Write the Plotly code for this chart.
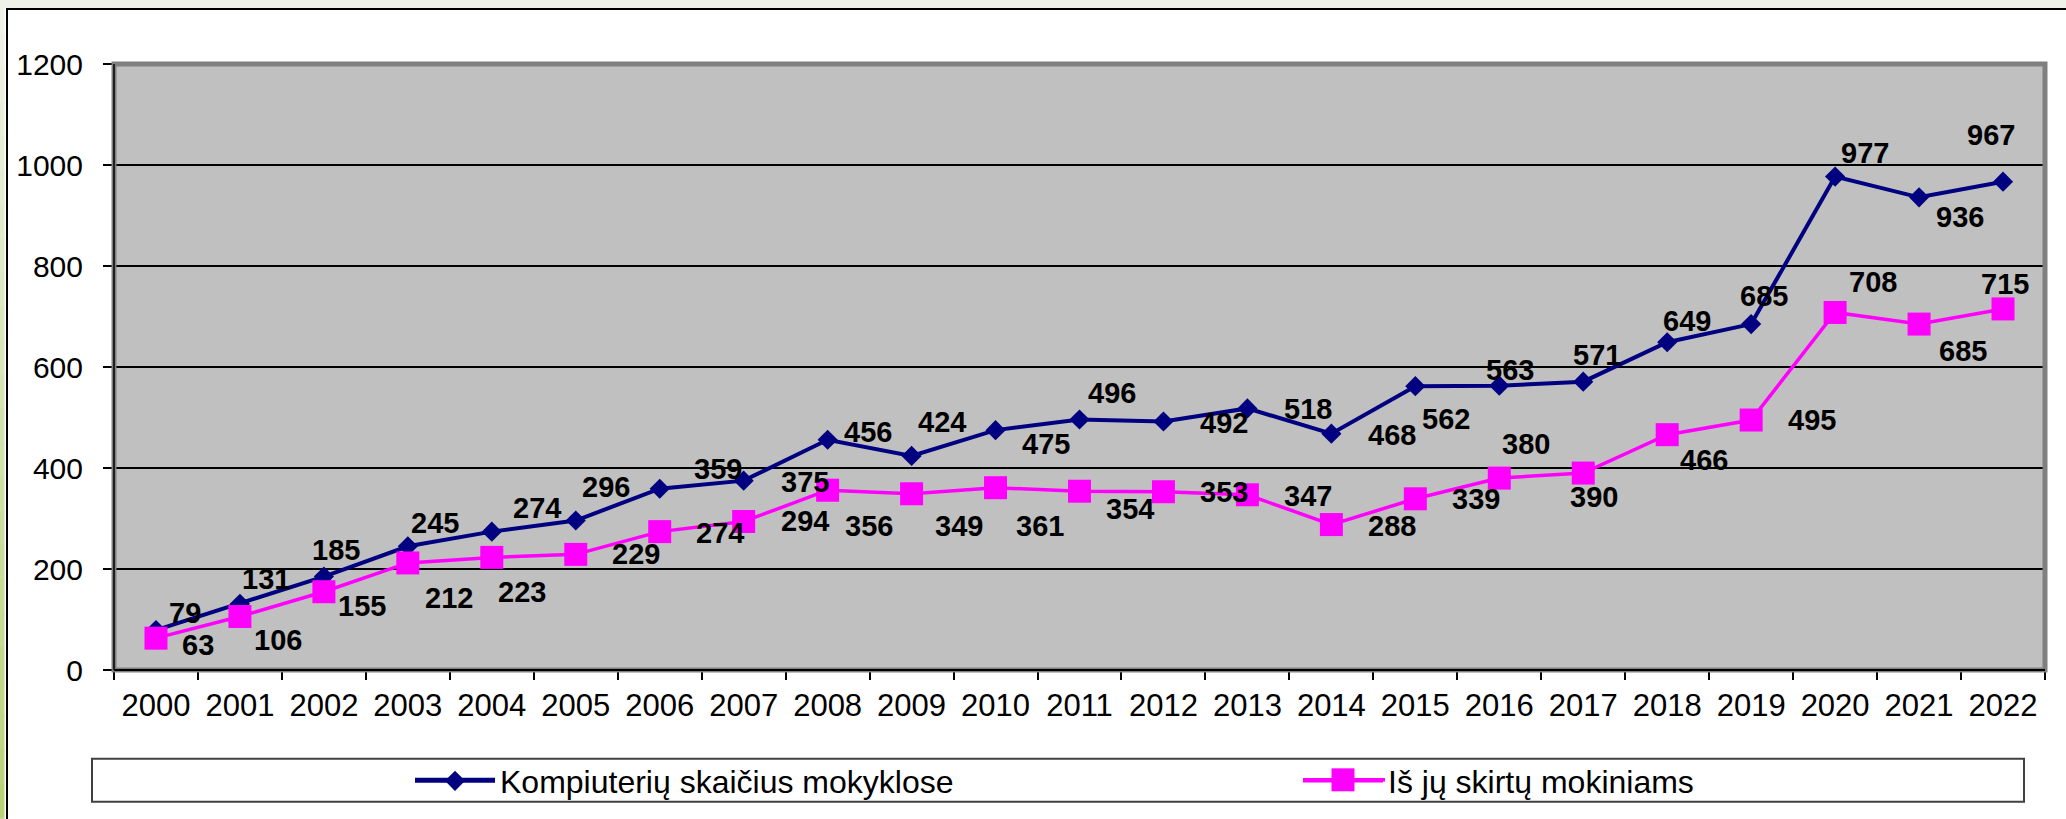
import plotly.graph_objects as go

# ---------------- data ----------------
years = [str(y) for y in range(2000, 2023)]
kompiuteriai = [79, 131, 185, 245, 274, 296, 359, 375, 456, 424, 475, 496, 492, 518, 468,
                562, 563, 571, 649, 685, 977, 936, 967]
mokiniams = [63, 106, 155, 212, 223, 229, 274, 294, 356, 349, 361, 354, 353, 347, 288,
             339, 380, 390, 466, 495, 708, 685, 715]
y_ticks = [0, 200, 400, 600, 800, 1000, 1200]
name_komp = "Kompiuterių skaičius mokyklose"
name_mok = "Iš jų skirtų mokiniams"

# ---------------- label offsets (px, dx right, dy down) ----------------
komp_dx = [29, 26, 12, 27, 45, 30, 58, 61, 40, 30, 50, 32, 61, 61, 61, 31, 11, 14, 20, 13, 30, 41, -12]
komp_dy = [-17, -25, -27, -23, -24, -34, -20, 1, -8, -34, 14, -27, 1, 1, 1, 33, -16, -27, -21, -28, -24, 20, -47]
mok_dx = [42, 38, 38, 41, 30, 60, 60, 61, 41, 47, 44, 50, 61, 61, 61, 61, 27, 11, 37, 61, 38, 44, 2]
mok_dy = [7, 24, 14, 35, 35, 0, 1, -1, 36, 32, 38, 18, 0, 1, 1, 0, -34, 24, 25, 0, -30, 27, -25]

W, H = 2066, 819
ML, MR, MT, MB = 114, 21, 64, 148
PW, PH = W - ML - MR, H - MT - MB


def px(x):
    return (x - ML) / PW


def py(y):
    return (H - MB - y) / PH


FONT = "Liberation Sans, Arial, sans-serif"
NAVY = "#000080"
MAGENTA = "#FF00FF"

fig = go.Figure()
fig.add_trace(go.Scatter(
    x=years, y=kompiuteriai, name=name_komp, mode="lines+markers",
    line=dict(color=NAVY, width=4),
    marker=dict(symbol="diamond", size=15.5, color=NAVY),
    legend="legend",
))
fig.add_trace(go.Scatter(
    x=years, y=mokiniams, name=name_mok, mode="lines+markers",
    line=dict(color=MAGENTA, width=3.5),
    marker=dict(symbol="square", size=23, color=MAGENTA),
    legend="legend2",
))

annotations = []
for series, dxs, dys in ((kompiuteriai, komp_dx, komp_dy), (mokiniams, mok_dx, mok_dy)):
    for i, (v, dx, dy) in enumerate(zip(series, dxs, dys)):
        annotations.append(dict(
            x=i, y=v, xref="x", yref="y", text=str(v), showarrow=False,
            xshift=dx, yshift=-dy,
            font=dict(family=FONT, size=29, color="black", weight="bold"),
        ))

shapes = []
# slide background strips
shapes.append(dict(type="rect", xref="paper", yref="paper", layer="below",
                   x0=px(-10), x1=px(W + 10), y0=py(-10), y1=py(8),
                   fillcolor="#EFF2E8", line=dict(width=0)))
n = 24
c0 = (0xEF, 0xF2, 0xE8)
c1 = (0xB8, 0xD4, 0x78)
for i in range(n):
    t = i / (n - 1)
    col = "rgb(%d,%d,%d)" % tuple(round(a + (b - a) * t) for a, b in zip(c0, c1))
    shapes.append(dict(type="rect", xref="paper", yref="paper", layer="below",
                       x0=px(-10), x1=px(4.5), y0=py(i * H / n), y1=py((i + 1) * H / n + 1),
                       fillcolor=col, line=dict(width=0)))
# chart frame
shapes.append(dict(type="rect", xref="paper", yref="paper", layer="below",
                   x0=px(7), x1=px(W + 20), y0=py(9), y1=py(H + 20),
                   line=dict(color="black", width=2)))
# plot area border
shapes.append(dict(type="rect", xref="paper", yref="paper", layer="above",
                   x0=0, x1=1, y0=0, y1=1, line=dict(color="#808080", width=5)))
shapes.append(dict(type="line", xref="paper", yref="paper", layer="above",
                   x0=0, x1=0, y0=0, y1=1, line=dict(color="#202020", width=2)))
shapes.append(dict(type="line", xref="paper", yref="paper", layer="above",
                   x0=0, x1=1, y0=0, y1=0, line=dict(color="black", width=2)))
# legend box
shapes.append(dict(type="rect", xref="paper", yref="paper", layer="below",
                   x0=px(92), x1=px(2024), y0=py(760), y1=py(803),
                   fillcolor="white", line=dict(color="#404040", width=2)))
# legend line extensions and enlarged legend square
shapes.append(dict(type="line", xref="paper", yref="paper", layer="above",
                   x0=px(415), x1=px(495), y0=py(781), y1=py(781),
                   line=dict(color=NAVY, width=4)))
shapes.append(dict(type="line", xref="paper", yref="paper", layer="above",
                   x0=px(1303), x1=px(1385), y0=py(781), y1=py(781),
                   line=dict(color=MAGENTA, width=3.5)))
shapes.append(dict(type="rect", xref="paper", yref="paper", layer="above",
                   x0=px(1331.5), x1=px(1354.5), y0=py(769.5), y1=py(792.5),
                   fillcolor=MAGENTA, line=dict(width=0)))

legend_style = dict(orientation="h", xanchor="left", y=py(781), yanchor="middle",
                    font=dict(family=FONT, size=32, color="black"),
                    itemwidth=80, bgcolor="rgba(0,0,0,0)", borderwidth=0)

fig.update_layout(
    width=W, height=H,
    margin=dict(l=ML, r=MR, t=MT, b=MB, pad=0),
    paper_bgcolor="white",
    plot_bgcolor="#C0C0C0",
    font=dict(family=FONT, color="black", size=30),
    showlegend=True,
    legend=dict(x=px(410), **legend_style),
    legend2=dict(x=px(1298), **legend_style),
    annotations=annotations,
    shapes=shapes,
    xaxis=dict(type="category", tickson="boundaries", ticks="outside", ticklen=9,
               tickwidth=1.5, tickcolor="black", showgrid=False, showline=False,
               tickfont=dict(family=FONT, size=31, color="black"), ticklabelstandoff=14,
               range=[-0.5, len(years) - 0.5], fixedrange=True),
    yaxis=dict(range=[0, 1200], tickvals=y_ticks, ticks="outside", ticklen=10,
               tickwidth=1.5, tickcolor="black", showgrid=True, gridcolor="black",
               gridwidth=1.5, zeroline=False, showline=False, ticklabelstandoff=14,
               tickfont=dict(family=FONT, size=30, color="black"), fixedrange=True),
    hovermode=False,
)

fig.write_html("out.html", config={"displayModeBar": False},
               post_script="document.body.style.margin='0';document.body.style.overflow='hidden';")
